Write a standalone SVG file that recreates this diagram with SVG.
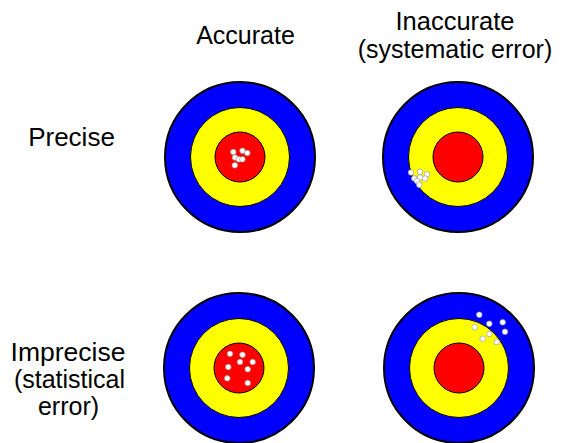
<svg xmlns="http://www.w3.org/2000/svg" width="563" height="443" viewBox="0 0 563 443">
<style>
.t{font-family:"Liberation Sans",Arial,sans-serif;font-size:25px;fill:#000;text-anchor:middle}
.b{fill:#0000ff;stroke:#000;stroke-width:2}
.y{fill:#ffff00;stroke:#000;stroke-width:1}
.r{fill:#ff0000;stroke:#000;stroke-width:1}
.d{fill:#fff;stroke:#999;stroke-width:0.7}
</style>
<defs>
<g id="target">
<circle class="b" r="75"/>
<circle class="y" r="49.5"/>
<circle class="r" r="25"/>
</g>
</defs>
<rect width="563" height="443" fill="#fff"/>
<g id="labels">
<text class="t" x="245.5" y="44">Accurate</text>
<text class="t" x="455" y="30" style="font-size:25.5px">Inaccurate</text>
<text class="t" x="455" y="58" style="font-size:25px">(systematic error)</text>
<text class="t" x="71.5" y="146" style="font-size:26px">Precise</text>
<text class="t" x="68" y="361" style="font-size:26.5px">Imprecise</text>
<text class="t" x="69.5" y="388">(statistical</text>
<text class="t" x="68.5" y="415">error)</text>
</g>
<g id="target-accurate-precise">
<use href="#target" x="240" y="157"/>
<circle class="d" cx="233.3" cy="152" r="2.8"/>
<circle class="d" cx="242.5" cy="150.8" r="2.8"/>
<circle class="d" cx="247.3" cy="153" r="2.8"/>
<circle class="d" cx="235" cy="157.5" r="2.8"/>
<circle class="d" cx="238.7" cy="159.3" r="2.8"/>
<circle class="d" cx="242.4" cy="159.3" r="2.8"/>
<circle class="d" cx="234.8" cy="165.3" r="2.8"/>
</g>
<g id="target-inaccurate-precise">
<use href="#target" x="458" y="157"/>
<circle class="d" cx="411" cy="172.5" r="2.8"/>
<circle class="d" cx="420" cy="171.7" r="2.8"/>
<circle class="d" cx="427" cy="174.3" r="2.8"/>
<circle class="d" cx="414.3" cy="178.5" r="2.8"/>
<circle class="d" cx="420" cy="177.5" r="2.8"/>
<circle class="d" cx="425" cy="178.5" r="2.8"/>
<circle class="d" cx="417" cy="181" r="2.8"/>
<circle class="d" cx="419.3" cy="184.7" r="2.8"/>
</g>
<g id="target-accurate-imprecise">
<use href="#target" x="239" y="368"/>
<circle class="d" cx="230" cy="353.8" r="2.8"/>
<circle class="d" cx="242.5" cy="354.8" r="2.8"/>
<circle class="d" cx="240" cy="362" r="2.8"/>
<circle class="d" cx="252.7" cy="362" r="2.8"/>
<circle class="d" cx="228.3" cy="367" r="2.8"/>
<circle class="d" cx="247.7" cy="369.2" r="2.8"/>
<circle class="d" cx="227.3" cy="378.3" r="2.8"/>
<circle class="d" cx="247.7" cy="383" r="2.8"/>
</g>
<g id="target-inaccurate-imprecise">
<use href="#target" x="459" y="368"/>
<circle class="d" cx="479.3" cy="314.7" r="2.8"/>
<circle class="d" cx="489.3" cy="323.7" r="2.8"/>
<circle class="d" cx="502.7" cy="322.3" r="2.8"/>
<circle class="d" cx="474.7" cy="327.3" r="2.8"/>
<circle class="d" cx="505" cy="331.7" r="2.8"/>
<circle class="d" cx="489.3" cy="334" r="2.8"/>
<circle class="d" cx="482.7" cy="338.7" r="2.8"/>
<circle class="d" cx="496.7" cy="342" r="2.8"/>
</g>
</svg>
